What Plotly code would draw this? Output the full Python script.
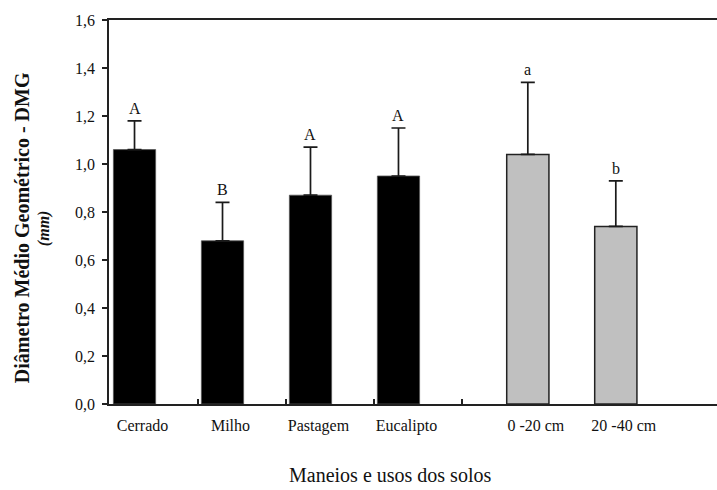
import plotly.graph_objects as go

# Mean geometric diameter (DMG, mm) by soil management / land use and by depth
managements = ["Cerrado", "Milho", "Pastagem", "Eucalipto"]
manage_dmg = [1.06, 0.68, 0.87, 0.95]
manage_err = [0.12, 0.16, 0.20, 0.20]
manage_letters = ["A", "B", "A", "A"]

depths = ["0 -20 cm", "20 -40 cm"]
depth_dmg = [1.04, 0.74]
depth_err = [0.30, 0.19]
depth_letters = ["a", "b"]

y_ticks = [0.0, 0.2, 0.4, 0.6, 0.8, 1.0, 1.2, 1.4, 1.6]
y_tick_text = ["0,0", "0,2", "0,4", "0,6", "0,8", "1,0", "1,2", "1,4", "1,6"]

FONT = "Liberation Serif, Times New Roman, serif"
INK = "#111111"

# slot positions: the depth group sits a little apart from the land uses
manage_x = [i for i in range(len(managements))]
depth_x = [len(managements) + 0.47 + i for i in range(len(depths))]
boundaries = [i + 0.72 for i in range(len(managements))]
bar_w = 0.48

fig = go.Figure()

fig.add_trace(go.Bar(
    x=manage_x, y=manage_dmg, width=bar_w,
    marker=dict(color="#000000", line=dict(color="#555555", width=0.8)),
    error_y=dict(type="data", array=manage_err, arrayminus=[0] * len(manage_err),
                 symmetric=False, color="#1a1a1a", thickness=1.7, width=7),
    showlegend=False, hoverinfo="skip",
))
fig.add_trace(go.Bar(
    x=depth_x, y=depth_dmg, width=bar_w,
    marker=dict(color="#c0c0c0", line=dict(color="#222222", width=1.5)),
    error_y=dict(type="data", array=depth_err, arrayminus=[0] * len(depth_err),
                 symmetric=False, color="#1a1a1a", thickness=1.7, width=7),
    showlegend=False, hoverinfo="skip",
))
# invisible trace that carries the boundary tick marks on the overlay axis
fig.add_trace(go.Scatter(x=boundaries, y=[0] * len(boundaries), xaxis="x2",
                         mode="markers", marker=dict(opacity=0),
                         showlegend=False, hoverinfo="skip"))

annotations = []
for xs, vals, errs, letters in ((manage_x, manage_dmg, manage_err, manage_letters),
                                (depth_x, depth_dmg, depth_err, depth_letters)):
    for x, v, e, t in zip(xs, vals, errs, letters):
        annotations.append(dict(x=x, y=v + e, xref="x", yref="y", text=t,
                                showarrow=False, yanchor="bottom", yshift=2,
                                font=dict(family=FONT, size=16, color=INK)))

annotations.append(dict(
    x=0, y=0.458, xref="paper", yref="paper", xshift=-87,
    text="<b>Diâmetro Médio Geométrico - DMG</b>", textangle=-90,
    showarrow=False, xanchor="center", yanchor="middle",
    font=dict(family=FONT, size=20, color=INK)))
annotations.append(dict(
    x=0, y=0.458, xref="paper", yref="paper", xshift=-65,
    text="<b><i>(mm)</i></b>", textangle=-90,
    showarrow=False, xanchor="center", yanchor="middle",
    font=dict(family=FONT, size=16, color=INK)))
annotations.append(dict(
    x=0.462, y=0, xref="paper", yref="paper", yshift=-84,
    text="Maneios e usos dos solos", showarrow=False,
    xanchor="center", yanchor="bottom",
    font=dict(family=FONT, size=20, color=INK)))

x_range = [-0.29, 6.62]

fig.update_layout(
    width=717, height=490,
    margin=dict(l=109, r=0, t=20, b=86),
    paper_bgcolor="white", plot_bgcolor="white",
    barmode="overlay",
    annotations=annotations,
    xaxis=dict(
        range=x_range, tickmode="array",
        tickvals=manage_x + depth_x, ticktext=managements + depths,
        ticks="", ticklabelshift=8, ticklabelstandoff=6,
        showline=True, linecolor="#222222", linewidth=1.5, mirror=True,
        showgrid=False, zeroline=False,
        tickfont=dict(family=FONT, size=16, color=INK),
    ),
    xaxis2=dict(
        range=x_range, overlaying="x", side="bottom",
        tickmode="array", tickvals=boundaries, showticklabels=False,
        ticks="inside", ticklen=5, tickwidth=1.5, tickcolor="#222222",
        showline=False, showgrid=False, zeroline=False,
    ),
    yaxis=dict(
        range=[0, 1.6], tickmode="array", tickvals=y_ticks, ticktext=y_tick_text,
        ticks="outside", ticklen=5, tickwidth=1.5, tickcolor="#222222",
        showline=True, linecolor="#222222", linewidth=1.5,
        showgrid=False, zeroline=False, ticklabelstandoff=4,
        tickfont=dict(family=FONT, size=16, color=INK),
    ),
)

fig.write_html("out.html")
